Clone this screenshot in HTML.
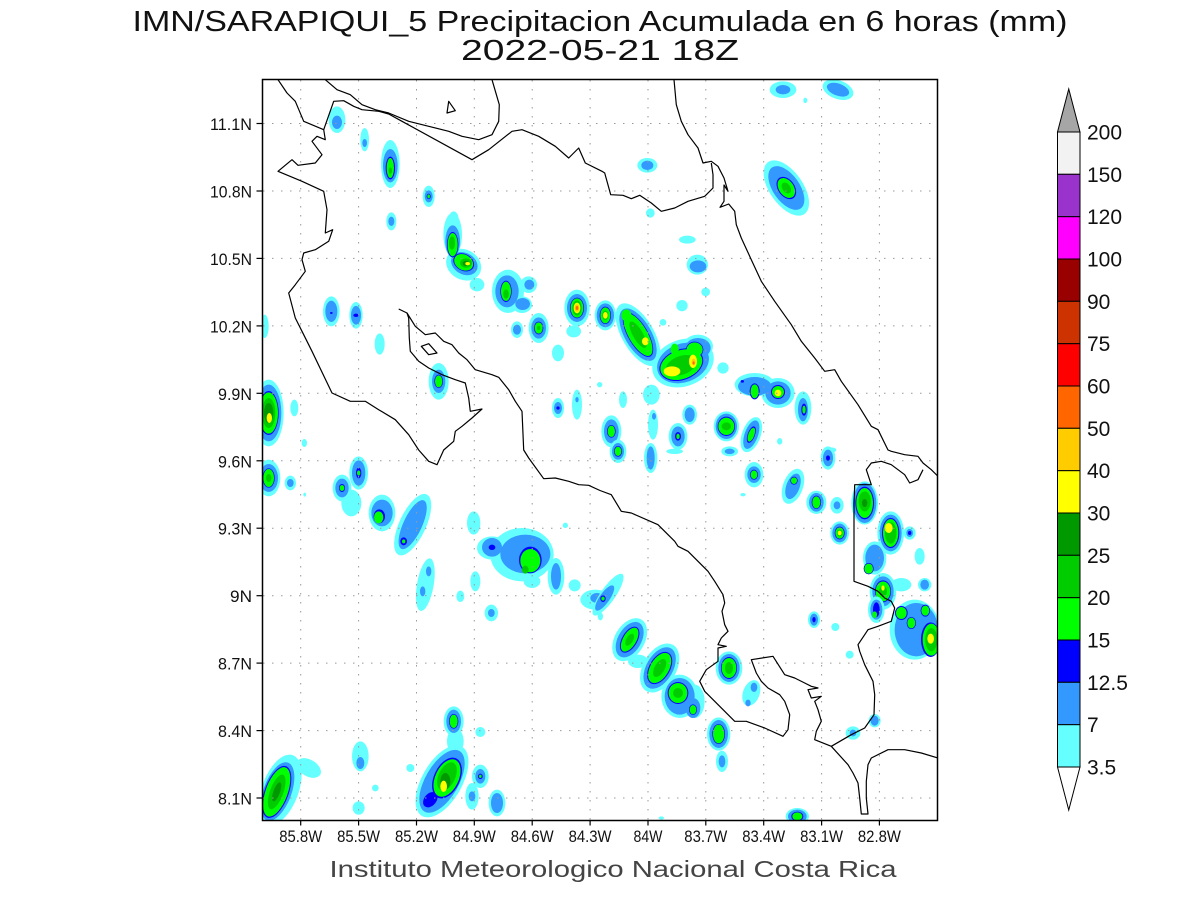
<!DOCTYPE html>
<html><head><meta charset="utf-8"><style>
html,body{margin:0;padding:0;background:#fff;}
svg{display:block;}
.c{fill:#66ffff}.b{fill:#3399ff}.n{fill:#0000ff}.g{fill:#00ff00}.m{fill:#00cc00}.d{fill:#009900}.y{fill:#ffff00}.o{fill:#ffcc00}.r{fill:#ff6600}
.cl{fill:none;stroke:#000;stroke-width:1.2;stroke-linejoin:round}
.gr{stroke:#999;stroke-width:1;stroke-dasharray:1.5 7.5}
text{font-family:"Liberation Sans",sans-serif;fill:#111}
</style></head><body>
<svg width="1200" height="900" viewBox="0 0 1200 900" xmlns="http://www.w3.org/2000/svg">
<defs><clipPath id="pc"><rect x="262.5" y="79.5" width="675" height="741"/></clipPath></defs>
<rect width="1200" height="900" fill="#fff"/>

<!-- titles -->
<text x="600" y="31" font-size="29" text-anchor="middle" textLength="935" lengthAdjust="spacingAndGlyphs">IMN/SARAPIQUI_5 Precipitacion Acumulada en 6 horas (mm)</text>
<text x="600" y="60" font-size="29" text-anchor="middle" textLength="278" lengthAdjust="spacingAndGlyphs">2022-05-21 18Z</text>

<g clip-path="url(#pc)">
<!-- Z9 -->
<g transform="translate(262 78) scale(0.33333)">
<ellipse class="c" cx="225" cy="125" rx="25" ry="40"/><ellipse class="b" cx="225" cy="133" rx="15" ry="20"/>
<ellipse class="c" cx="308" cy="185" rx="13" ry="35"/><ellipse class="b" cx="308" cy="195" rx="7" ry="12"/>
<g transform="translate(385 258)"><ellipse class="c" rx="28" ry="72"/><ellipse class="b" cy="5" rx="22" ry="50"/><ellipse class="n" cy="12" rx="14" ry="34"/><ellipse class="g" cy="12" rx="11" ry="30"/><ellipse class="m" cy="20" rx="5" ry="10"/></g>
<g transform="translate(500 355)"><ellipse class="c" rx="18" ry="32"/><ellipse class="b" rx="12" ry="18"/><ellipse class="n" rx="6" ry="8"/><ellipse class="g" rx="4" ry="6"/></g>
<ellipse class="c" cx="388" cy="430" rx="15" ry="27"/><ellipse class="b" cx="388" cy="430" rx="9" ry="14"/>
<ellipse class="c" cx="572" cy="470" rx="28" ry="65"/><ellipse class="c" cx="575" cy="425" rx="15" ry="25"/><ellipse class="c" cx="605" cy="560" rx="55" ry="45" transform="rotate(30 605 560)"/><ellipse class="c" cx="645" cy="620" rx="22" ry="20"/>
<ellipse class="b" cx="572" cy="490" rx="22" ry="48"/><ellipse class="b" cx="607" cy="557" rx="42" ry="32" transform="rotate(30 607 557)"/>
<ellipse class="n" cx="572" cy="500" rx="17" ry="38"/><ellipse class="n" cx="605" cy="553" rx="33" ry="25" transform="rotate(30 605 553)"/>
<ellipse class="g" cx="572" cy="500" rx="15" ry="35"/><ellipse class="g" cx="605" cy="553" rx="30" ry="23" transform="rotate(30 605 553)"/>
<ellipse class="m" cx="570" cy="495" rx="9" ry="20"/><ellipse class="m" cx="612" cy="555" rx="18" ry="14"/><ellipse class="d" cx="612" cy="556" rx="10" ry="8"/><ellipse class="y" cx="617" cy="557" rx="7" ry="5"/>
<ellipse class="c" cx="738" cy="640" rx="48" ry="65"/><ellipse class="c" cx="800" cy="620" rx="25" ry="25"/><ellipse class="c" cx="780" cy="680" rx="30" ry="25"/>
<ellipse class="b" cx="735" cy="640" rx="35" ry="48"/><ellipse class="b" cx="802" cy="620" rx="15" ry="15"/><ellipse class="b" cx="782" cy="678" rx="22" ry="18"/>
<ellipse class="n" cx="732" cy="640" rx="17" ry="32"/><ellipse class="g" cx="732" cy="640" rx="15" ry="29"/><ellipse class="m" cx="732" cy="648" rx="8" ry="14"/>
<g transform="translate(208 700)"><ellipse class="c" rx="25" ry="45"/><ellipse class="b" rx="18" ry="32"/><ellipse class="n" cy="5" rx="4" ry="3"/></g>
<g transform="translate(282 712)"><ellipse class="c" rx="20" ry="40"/><ellipse class="b" rx="15" ry="28"/><ellipse class="n" rx="8" ry="5"/></g>
<ellipse class="c" cx="353" cy="798" rx="15" ry="32"/>
<ellipse class="c" cx="765" cy="755" rx="18" ry="25"/><ellipse class="b" cx="765" cy="755" rx="12" ry="15"/>
<g transform="translate(830 750)"><ellipse class="c" rx="30" ry="45"/><ellipse class="b" rx="22" ry="32"/><ellipse class="n" rx="14" ry="19"/><ellipse class="g" rx="12" ry="17"/><ellipse class="m" rx="5" ry="6"/></g>
<ellipse class="c" cx="935" cy="760" rx="22" ry="18"/>
<g transform="translate(945 690)"><ellipse class="c" rx="38" ry="55"/><ellipse class="b" rx="30" ry="42"/><ellipse class="n" rx="21" ry="31"/><ellipse class="g" rx="19" ry="29"/><ellipse class="m" rx="14" ry="22"/><ellipse class="y" rx="10" ry="16"/><ellipse class="o" rx="7" ry="11"/><ellipse class="r" rx="4" ry="6"/></g>
<ellipse class="c" cx="888" cy="825" rx="18" ry="25"/>
<g transform="translate(888 990)"><ellipse class="c" rx="18" ry="30"/><ellipse class="b" rx="12" ry="18"/><ellipse class="n" rx="5" ry="5"/></g>
<ellipse class="c" cx="945" cy="980" rx="15" ry="45"/><ellipse class="b" cx="945" cy="965" rx="5" ry="8"/>
<g transform="translate(530 910)"><ellipse class="c" rx="30" ry="55"/><ellipse class="b" rx="20" ry="35"/><ellipse class="n" rx="13" ry="20"/><ellipse class="g" rx="11" ry="18"/></g>
<g transform="translate(20 1005)"><ellipse class="c" rx="45" ry="100"/><ellipse class="b" rx="38" ry="85"/><ellipse class="n" rx="30" ry="66"/><ellipse class="g" rx="28" ry="62"/><ellipse class="m" rx="20" ry="45"/><ellipse class="d" rx="14" ry="30"/><ellipse class="y" cx="2" cy="15" rx="8" ry="15"/></g>
<ellipse class="c" cx="8" cy="745" rx="12" ry="35"/>
<ellipse class="c" cx="97" cy="990" rx="12" ry="25"/>
<ellipse class="c" cx="127" cy="1095" rx="8" ry="12"/>
</g>

<!-- Z10 -->
<g transform="translate(598 78) scale(0.33333)">
<ellipse class="c" cx="555" cy="35" rx="40" ry="25"/><ellipse class="b" cx="555" cy="35" rx="22" ry="14"/>
<g transform="translate(720 35) rotate(20)"><ellipse class="c" rx="48" ry="28"/><ellipse class="b" rx="35" ry="18"/></g>
<ellipse class="c" cx="622" cy="67" rx="6" ry="8"/>
<ellipse class="c" cx="148" cy="262" rx="30" ry="22"/><ellipse class="b" cx="148" cy="262" rx="18" ry="14"/>
<g transform="translate(565 330) rotate(-35)"><ellipse class="c" rx="50" ry="95"/><ellipse class="b" rx="40" ry="75"/><ellipse class="n" rx="25" ry="37"/><ellipse class="g" rx="22" ry="33"/><ellipse class="m" rx="12" ry="18"/></g>
<ellipse class="c" cx="157" cy="405" rx="13" ry="14"/>
<ellipse class="c" cx="268" cy="485" rx="25" ry="12"/>
<ellipse class="c" cx="298" cy="560" rx="32" ry="30"/><ellipse class="b" cx="300" cy="565" rx="25" ry="18"/>
<ellipse class="c" cx="323" cy="642" rx="13" ry="13"/>
<ellipse class="c" cx="252" cy="683" rx="17" ry="17"/>
<ellipse class="c" cx="195" cy="733" rx="10" ry="10"/>
<ellipse class="c" cx="375" cy="870" rx="17" ry="17"/>
<g transform="translate(22 712)"><ellipse class="c" rx="32" ry="45"/><ellipse class="b" rx="26" ry="36"/><ellipse class="n" rx="17" ry="26"/><ellipse class="g" rx="15" ry="24"/><ellipse class="m" rx="9" ry="14"/><ellipse class="y" rx="7" ry="10"/></g>
<!-- chain + big -->
<ellipse class="c" cx="255" cy="855" rx="95" ry="70" transform="rotate(-20 255 855)"/><ellipse class="c" cx="160" cy="950" rx="25" ry="30"/><ellipse class="c" cx="300" cy="805" rx="45" ry="35"/>
<g transform="translate(120 770) rotate(-30)"><ellipse class="c" rx="48" ry="105"/><ellipse class="b" rx="40" ry="88"/><ellipse class="n" rx="30" ry="75"/><ellipse class="g" rx="28" ry="72"/><ellipse class="m" rx="15" ry="45"/></g>
<ellipse class="g" cx="85" cy="712" rx="15" ry="18"/><ellipse class="y" cx="142" cy="790" rx="10" ry="12"/>
<ellipse class="b" cx="255" cy="855" rx="80" ry="58" transform="rotate(-20 255 855)"/><ellipse class="b" cx="300" cy="810" rx="38" ry="30"/>
<ellipse class="n" cx="250" cy="860" rx="68" ry="46" transform="rotate(-20 250 860)"/><ellipse class="n" cx="290" cy="815" rx="26" ry="24"/>
<ellipse class="g" cx="250" cy="860" rx="65" ry="43" transform="rotate(-20 250 860)"/><ellipse class="g" cx="290" cy="815" rx="24" ry="22"/><ellipse class="g" cx="230" cy="815" rx="12" ry="18"/>
<ellipse class="m" cx="250" cy="862" rx="48" ry="28" transform="rotate(-20 250 862)"/>
<ellipse class="y" cx="222" cy="880" rx="25" ry="15"/><ellipse class="y" cx="285" cy="850" rx="12" ry="20"/><ellipse class="o" cx="287" cy="852" rx="6" ry="10"/><ellipse class="r" cx="287" cy="855" rx="3" ry="5"/>
<!-- right cluster -->
<ellipse class="c" cx="470" cy="920" rx="60" ry="35"/><ellipse class="c" cx="540" cy="945" rx="50" ry="45"/><ellipse class="c" cx="615" cy="990" rx="25" ry="50"/>
<ellipse class="b" cx="470" cy="925" rx="50" ry="28"/><ellipse class="b" cx="540" cy="945" rx="38" ry="35"/><ellipse class="b" cx="615" cy="995" rx="15" ry="35"/>
<ellipse class="n" cx="470" cy="940" rx="15" ry="24"/><ellipse class="n" cx="540" cy="942" rx="21" ry="21"/><ellipse class="n" cx="618" cy="995" rx="8" ry="18"/><ellipse class="n" cx="433" cy="910" rx="5" ry="4"/>
<ellipse class="g" cx="470" cy="940" rx="12" ry="21"/><ellipse class="g" cx="540" cy="942" rx="18" ry="18"/><ellipse class="g" cx="618" cy="995" rx="5" ry="12"/><ellipse class="y" cx="540" cy="945" rx="10" ry="10"/>
<g transform="translate(40 1060)"><ellipse class="c" rx="30" ry="48"/><ellipse class="b" rx="22" ry="36"/><ellipse class="n" rx="13" ry="19"/><ellipse class="g" rx="11" ry="17"/></g>
<ellipse class="c" cx="165" cy="1040" rx="15" ry="45"/><ellipse class="b" cx="168" cy="1015" rx="6" ry="10"/>
<ellipse class="c" cx="275" cy="1010" rx="22" ry="30"/><ellipse class="b" cx="275" cy="1010" rx="15" ry="22"/>
<g transform="translate(240 1075)"><ellipse class="c" rx="28" ry="40"/><ellipse class="b" rx="20" ry="30"/><ellipse class="n" rx="9" ry="13"/><ellipse class="g" rx="5" ry="8"/></g>
<g transform="translate(385 1045)"><ellipse class="c" rx="38" ry="45"/><ellipse class="b" rx="32" ry="38"/><ellipse class="n" rx="26" ry="29"/><ellipse class="g" rx="24" ry="26"/><ellipse class="m" rx="14" ry="12"/></g>
<g transform="translate(460 1070) rotate(20)"><ellipse class="c" rx="28" ry="55"/><ellipse class="b" rx="20" ry="45"/><ellipse class="n" rx="11" ry="26"/><ellipse class="g" rx="9" ry="22"/></g>
<ellipse class="c" cx="75" cy="965" rx="12" ry="25"/>
<ellipse class="c" cx="545" cy="1090" rx="8" ry="10"/><ellipse class="c" cx="700" cy="1116" rx="15" ry="8"/>
<ellipse class="c" cx="5" cy="920" rx="8" ry="8"/>
</g>

<!-- Z11 -->
<g transform="translate(262 448) scale(0.33333)">
<g transform="translate(20 90)"><ellipse class="c" rx="35" ry="55"/><ellipse class="b" rx="28" ry="42"/><ellipse class="n" rx="18" ry="29"/><ellipse class="g" rx="16" ry="27"/><ellipse class="m" rx="8" ry="12"/></g>
<ellipse class="c" cx="85" cy="105" rx="17" ry="22"/><ellipse class="b" cx="85" cy="105" rx="10" ry="12"/>
<ellipse class="c" cx="128" cy="140" rx="4" ry="6"/>
<ellipse class="c" cx="268" cy="165" rx="30" ry="40"/><ellipse class="c" cx="240" cy="120" rx="28" ry="40"/><ellipse class="c" cx="290" cy="75" rx="28" ry="50"/>
<ellipse class="b" cx="240" cy="120" rx="20" ry="28"/><ellipse class="b" cx="290" cy="75" rx="20" ry="38"/>
<ellipse class="n" cx="240" cy="120" rx="9" ry="12"/><ellipse class="n" cx="290" cy="75" rx="8" ry="16"/>
<ellipse class="g" cx="240" cy="120" rx="7" ry="9"/><ellipse class="g" cx="290" cy="75" rx="5" ry="8"/>
<g transform="translate(360 195)"><ellipse class="c" rx="40" ry="55"/><ellipse class="b" rx="32" ry="40"/><ellipse class="n" cx="-8" cy="10" rx="17" ry="21"/><ellipse class="g" cx="-10" cy="13" rx="14" ry="18"/></g>
<g transform="translate(452 230) rotate(25)"><ellipse class="c" rx="40" ry="100"/><ellipse class="b" rx="28" ry="80"/></g>
<ellipse class="n" cx="425" cy="280" rx="10" ry="12"/><ellipse class="g" cx="425" cy="280" rx="5" ry="6"/>
<g transform="translate(490 410) rotate(10)"><ellipse class="c" rx="25" ry="80"/></g>
<ellipse class="b" cx="500" cy="370" rx="8" ry="15"/><ellipse class="b" cx="482" cy="430" rx="8" ry="15"/>
<ellipse class="c" cx="595" cy="445" rx="12" ry="17"/>
<ellipse class="c" cx="640" cy="400" rx="15" ry="30"/>
<ellipse class="c" cx="635" cy="225" rx="20" ry="35"/>
<ellipse class="c" cx="780" cy="320" rx="95" ry="80"/><ellipse class="c" cx="690" cy="300" rx="45" ry="35"/><ellipse class="c" cx="810" cy="400" rx="25" ry="20"/>
<ellipse class="b" cx="790" cy="318" rx="75" ry="58"/><ellipse class="b" cx="690" cy="298" rx="30" ry="28"/>
<ellipse class="n" cx="805" cy="336" rx="34" ry="40"/><ellipse class="n" cx="690" cy="298" rx="10" ry="8"/>
<ellipse class="g" cx="805" cy="338" rx="30" ry="35"/><ellipse class="m" cx="790" cy="365" rx="10" ry="12"/>
<ellipse class="c" cx="882" cy="385" rx="25" ry="55"/><ellipse class="b" cx="882" cy="385" rx="15" ry="40"/>
<ellipse class="c" cx="938" cy="412" rx="18" ry="18"/>
<ellipse class="c" cx="1000" cy="455" rx="45" ry="30"/><ellipse class="b" cx="1005" cy="450" rx="20" ry="15"/><ellipse class="c" cx="1015" cy="505" rx="8" ry="12"/>
<ellipse class="c" cx="688" cy="495" rx="20" ry="25"/><ellipse class="b" cx="688" cy="495" rx="10" ry="12"/>
<ellipse class="c" cx="580" cy="880" rx="25" ry="40"/>
<g transform="translate(575 820)"><ellipse class="c" rx="30" ry="45"/><ellipse class="b" rx="22" ry="35"/><ellipse class="n" rx="14" ry="22"/><ellipse class="g" rx="12" ry="20"/></g>
<g transform="translate(540 1000) rotate(30)"><ellipse class="c" rx="60" ry="120"/><ellipse class="b" rx="50" ry="105"/></g>
<ellipse class="n" cx="505" cy="1055" rx="18" ry="26" transform="rotate(40 505 1055)"/>
<ellipse class="n" cx="555" cy="990" rx="39" ry="65" transform="rotate(25 555 990)"/>
<ellipse class="g" cx="555" cy="990" rx="35" ry="60" transform="rotate(25 555 990)"/><ellipse class="m" cx="555" cy="985" rx="25" ry="45" transform="rotate(25 555 985)"/><ellipse class="d" cx="550" cy="1000" rx="15" ry="25"/><ellipse class="y" cx="545" cy="1015" rx="10" ry="17"/>
<g transform="translate(655 985)"><ellipse class="c" rx="25" ry="35"/><ellipse class="b" rx="15" ry="22"/><ellipse class="n" rx="7" ry="8"/><ellipse class="g" rx="4" ry="5"/></g>
<ellipse class="c" cx="630" cy="1045" rx="20" ry="40"/><ellipse class="b" cx="630" cy="1045" rx="10" ry="15"/>
<ellipse class="c" cx="705" cy="1065" rx="25" ry="40"/><ellipse class="b" cx="705" cy="1065" rx="18" ry="30"/>
<ellipse class="c" cx="655" cy="852" rx="15" ry="15"/>
<ellipse class="c" cx="445" cy="960" rx="12" ry="12"/>
<ellipse class="c" cx="295" cy="925" rx="25" ry="45"/><ellipse class="b" cx="295" cy="945" rx="12" ry="18"/>
<ellipse class="c" cx="340" cy="1020" rx="10" ry="10"/>
<ellipse class="c" cx="290" cy="1080" rx="18" ry="20"/>
<ellipse class="c" cx="140" cy="960" rx="40" ry="25" transform="rotate(30 140 960)"/>
<g transform="translate(55 1025) rotate(20)"><ellipse class="c" rx="55" ry="110"/><ellipse class="b" cx="-6" cy="8" rx="42" ry="92"/><ellipse class="n" cx="-8" cy="10" rx="36" ry="82"/><ellipse class="g" cx="-8" cy="10" rx="33" ry="78"/><ellipse class="m" cx="-8" cy="10" rx="20" ry="55"/><ellipse class="d" cx="-8" cy="10" rx="10" ry="30"/></g>
<ellipse class="c" cx="910" cy="232" rx="8" ry="8"/>
</g>

<!-- Z12 -->
<g transform="translate(598 448) scale(0.33333)">
<g transform="translate(60 10)"><ellipse class="c" rx="25" ry="35"/><ellipse class="b" rx="18" ry="25"/><ellipse class="n" rx="12" ry="16"/><ellipse class="g" rx="10" ry="14"/></g>
<ellipse class="c" cx="158" cy="30" rx="20" ry="45"/><ellipse class="b" cx="158" cy="30" rx="12" ry="35"/>
<ellipse class="c" cx="230" cy="10" rx="25" ry="8"/>
<ellipse class="c" cx="395" cy="10" rx="25" ry="15"/><ellipse class="b" cx="395" cy="10" rx="15" ry="8"/>
<g transform="translate(690 30)"><ellipse class="c" rx="22" ry="35"/><ellipse class="b" rx="15" ry="25"/><ellipse class="n" rx="6" ry="8"/></g>
<g transform="translate(468 80)"><ellipse class="c" rx="28" ry="38"/><ellipse class="b" rx="20" ry="25"/><ellipse class="n" rx="12" ry="15"/><ellipse class="g" rx="10" ry="13"/></g>
<g transform="translate(585 115) rotate(20)"><ellipse class="c" rx="30" ry="55"/><ellipse class="b" rx="20" ry="40"/></g>
<ellipse class="n" cx="588" cy="98" rx="11" ry="12"/><ellipse class="g" cx="588" cy="98" rx="9" ry="10"/>
<g transform="translate(655 163)"><ellipse class="c" rx="30" ry="35"/><ellipse class="b" rx="22" ry="28"/><ellipse class="n" rx="14" ry="20"/><ellipse class="g" rx="12" ry="18"/></g>
<ellipse class="c" cx="717" cy="172" rx="20" ry="25"/><ellipse class="b" cx="717" cy="172" rx="10" ry="12"/>
<ellipse class="c" cx="435" cy="140" rx="8" ry="5"/>
<g transform="translate(725 255)"><ellipse class="c" rx="28" ry="35"/><ellipse class="b" rx="22" ry="28"/><ellipse class="n" rx="15" ry="19"/><ellipse class="g" rx="13" ry="17"/><ellipse class="m" rx="8" ry="10"/><ellipse class="y" rx="6" ry="7"/></g>
<g transform="translate(800 165)"><ellipse class="c" rx="40" ry="65"/><ellipse class="b" rx="35" ry="60"/><ellipse class="n" rx="28" ry="49"/><ellipse class="g" rx="25" ry="45"/><ellipse class="m" cy="-5" rx="18" ry="30"/><ellipse class="d" rx="8" ry="12"/></g>
<ellipse class="c" cx="935" cy="255" rx="18" ry="20"/><ellipse class="b" cx="935" cy="255" rx="10" ry="12"/><ellipse class="n" cx="935" cy="255" rx="5" ry="6"/>
<ellipse class="c" cx="830" cy="330" rx="35" ry="50"/><ellipse class="b" cx="830" cy="330" rx="28" ry="40"/><ellipse class="n" cx="812" cy="362" rx="15" ry="17"/><ellipse class="g" cx="812" cy="362" rx="13" ry="15"/>
<g transform="translate(878 255)"><ellipse class="c" rx="40" ry="65"/><ellipse class="b" rx="33" ry="55"/><ellipse class="n" rx="26" ry="45"/><ellipse class="g" rx="23" ry="42"/><ellipse class="m" rx="17" ry="32"/><ellipse class="y" cx="-6" cy="-15" rx="12" ry="15"/></g>
<ellipse class="c" cx="965" cy="325" rx="15" ry="25"/>
<ellipse class="c" cx="910" cy="410" rx="30" ry="20"/>
<ellipse class="c" cx="980" cy="410" rx="20" ry="20"/><ellipse class="b" cx="980" cy="410" rx="13" ry="15"/>
<g transform="translate(855 430)"><ellipse class="c" rx="40" ry="55"/><ellipse class="b" rx="32" ry="45"/><ellipse class="n" rx="24" ry="33"/><ellipse class="g" rx="22" ry="30"/><ellipse class="m" rx="12" ry="16"/><ellipse class="y" cy="-10" rx="5" ry="8"/></g>
<g transform="translate(835 485)"><ellipse class="c" rx="25" ry="40"/><ellipse class="b" rx="18" ry="30"/><ellipse class="n" rx="10" ry="22"/><ellipse class="g" cx="-5" cy="15" rx="7" ry="10"/></g>
<ellipse class="c" cx="950" cy="545" rx="75" ry="90"/>
<ellipse class="b" cx="955" cy="545" rx="65" ry="80"/>
<ellipse class="n" cx="910" cy="495" rx="19" ry="21"/><ellipse class="n" cx="940" cy="525" rx="14" ry="18"/><ellipse class="n" cx="982" cy="488" rx="14" ry="18"/><ellipse class="n" cx="998" cy="575" rx="29" ry="52"/>
<ellipse class="g" cx="910" cy="495" rx="16" ry="18"/><ellipse class="g" cx="940" cy="525" rx="12" ry="16"/><ellipse class="g" cx="982" cy="488" rx="12" ry="15"/><ellipse class="g" cx="1000" cy="575" rx="26" ry="48"/>
<ellipse class="m" cx="1000" cy="575" rx="18" ry="35"/><ellipse class="y" cx="998" cy="572" rx="10" ry="15"/>
<g transform="translate(648 515)"><ellipse class="c" rx="18" ry="25"/><ellipse class="b" rx="12" ry="18"/><ellipse class="n" rx="5" ry="8"/></g>
<ellipse class="c" cx="712" cy="537" rx="12" ry="12"/>
<ellipse class="c" cx="755" cy="620" rx="12" ry="12"/>
<g transform="translate(30 440) rotate(35)"><ellipse class="c" rx="22" ry="75"/></g>
<ellipse class="b" cx="20" cy="450" rx="15" ry="45" transform="rotate(35 20 450)"/><ellipse class="n" cx="15" cy="452" rx="8" ry="10"/><ellipse class="g" cx="15" cy="452" rx="5" ry="6"/>
<ellipse class="c" cx="120" cy="640" rx="30" ry="20"/>
<g transform="translate(95 575) rotate(30)"><ellipse class="c" rx="45" ry="70"/><ellipse class="b" rx="35" ry="58"/><ellipse class="n" rx="23" ry="43"/><ellipse class="g" rx="20" ry="40"/><ellipse class="m" rx="10" ry="20"/></g>
<g transform="translate(185 660) rotate(30)"><ellipse class="c" rx="50" ry="80"/><ellipse class="b" rx="40" ry="68"/><ellipse class="n" rx="31" ry="53"/><ellipse class="g" rx="28" ry="50"/><ellipse class="m" rx="15" ry="30"/></g>
<ellipse class="c" cx="245" cy="745" rx="55" ry="65"/><ellipse class="c" cx="290" cy="760" rx="30" ry="50"/>
<ellipse class="b" cx="245" cy="745" rx="45" ry="55"/><ellipse class="b" cx="285" cy="780" rx="22" ry="30"/>
<ellipse class="n" cx="240" cy="735" rx="31" ry="33"/><ellipse class="n" cx="285" cy="785" rx="12" ry="16"/>
<ellipse class="g" cx="240" cy="735" rx="28" ry="30"/><ellipse class="g" cx="285" cy="785" rx="10" ry="14"/><ellipse class="m" cx="240" cy="735" rx="15" ry="15"/>
<g transform="translate(393 660)"><ellipse class="c" rx="40" ry="50"/><ellipse class="b" rx="32" ry="42"/><ellipse class="n" rx="24" ry="33"/><ellipse class="g" rx="22" ry="30"/><ellipse class="m" rx="12" ry="18"/></g>
<g transform="translate(460 735) rotate(20)"><ellipse class="c" rx="25" ry="40"/></g>
<ellipse class="b" cx="468" cy="718" rx="10" ry="14"/><ellipse class="b" cx="450" cy="765" rx="8" ry="10"/>
<g transform="translate(362 858)"><ellipse class="c" rx="35" ry="50"/><ellipse class="b" rx="28" ry="42"/><ellipse class="n" rx="19" ry="30"/><ellipse class="g" rx="17" ry="28"/></g>
<ellipse class="c" cx="372" cy="940" rx="18" ry="32"/><ellipse class="b" cx="372" cy="940" rx="10" ry="18"/>
<ellipse class="c" cx="830" cy="818" rx="18" ry="20"/><ellipse class="b" cx="830" cy="818" rx="12" ry="15"/>
<ellipse class="c" cx="765" cy="855" rx="22" ry="20"/><ellipse class="b" cx="765" cy="855" rx="10" ry="10"/>
<g transform="translate(598 1105)"><ellipse class="c" rx="35" ry="25"/><ellipse class="b" rx="28" ry="20"/><ellipse class="n" rx="18" ry="14"/><ellipse class="g" rx="15" ry="12"/></g>
<ellipse class="c" cx="190" cy="1110" rx="8" ry="5"/>
</g>

<!-- grid -->
<g class="gr">
<line x1="300.7" y1="80" x2="300.7" y2="820"/><line x1="358.6" y1="80" x2="358.6" y2="820"/><line x1="416.5" y1="80" x2="416.5" y2="820"/><line x1="474.3" y1="80" x2="474.3" y2="820"/><line x1="532.2" y1="80" x2="532.2" y2="820"/><line x1="590.1" y1="80" x2="590.1" y2="820"/><line x1="648" y1="80" x2="648" y2="820"/><line x1="705.8" y1="80" x2="705.8" y2="820"/><line x1="763.7" y1="80" x2="763.7" y2="820"/><line x1="821.6" y1="80" x2="821.6" y2="820"/><line x1="879.4" y1="80" x2="879.4" y2="820"/>
<line x1="263" y1="123.5" x2="937" y2="123.5"/><line x1="263" y1="191" x2="937" y2="191"/><line x1="263" y1="258.4" x2="937" y2="258.4"/><line x1="263" y1="325.9" x2="937" y2="325.9"/><line x1="263" y1="393.3" x2="937" y2="393.3"/><line x1="263" y1="460.8" x2="937" y2="460.8"/><line x1="263" y1="528.2" x2="937" y2="528.2"/><line x1="263" y1="595.7" x2="937" y2="595.7"/><line x1="263" y1="663.1" x2="937" y2="663.1"/><line x1="263" y1="730.6" x2="937" y2="730.6"/><line x1="263" y1="798" x2="937" y2="798"/>
</g>

<!-- coastlines -->
<polyline class="cl" points="278,79.7 287,93 295.3,101.3 303.7,121.3 323.7,129.7 325.3,139.7 317,136.3 312,141.3 322,154.7 315.3,163 298,165.3 292,159.7 278,171.3 302,181.3 323.7,191.3 327,209.7 325.3,233 332.7,229.7 328.7,241.3 315.3,249.7 303.7,253 302,259.7 305.3,271.3 295.3,284.7 288.7,293 295.3,318 302,331.3 312,351.3 332,393 350.3,401.3 365.3,401.3 378.7,409.7 395.3,419.7 408.7,434.7 418.7,450 428.7,461.3 437,464.7 443.7,450 453.7,441.3 455.3,431.3 462,426.3 472,418 482,409 470.3,411.3 468.7,398 465.3,383 455.3,379.7 442,374.7 428.7,368 418.7,361.3 410.3,351.3 409.3,338 408.7,318 407,313 398.7,309"/>
<polyline class="cl" points="407,313 415.3,326.3 425.3,334.7 435.3,333 443.7,341.3 452,344.7 458.7,353 467,359.7 475.3,369.7 492,374.7 498.7,377.3 508.7,389.7 515.3,401.3 522,411.3 523.7,450 528.7,458 543.7,478.7 555.3,478 568.7,481.3 578.7,484.7 588.7,485.3 600,490.5 611.3,494.7 621.3,511.3 631.3,513 658,524.7 674.7,541.3 678,546.3 688,551.3 698,561.3 708,571.3 714.7,581.3 723,594.7 724.7,603 722,611.3 724.7,624.7 728,631.3 721.3,638 718,644.7 726.3,646.3 718,648 718,661.3 706.3,669.7 699.7,681.3 704.7,691.3 714.7,701.3 724.7,711.3 734.7,721.3 746.3,721.3 764.7,728 783,736.3 788,729.7 789.7,714.7 784.7,701.3 779.7,694.7 768,688 761.3,681.3 756.3,673 751.3,659.7 773,656.3 784.7,674.7 794.7,678 804.7,683 811.3,686.3 818,688 808,689.7 811.3,698 821.3,696.3 814.7,701.3 818,709.7 821.3,721.3 816.3,731.3 814.7,739.7 831.3,746.3 848,764.7 853,773 858,783 859.7,798 861.3,814 868,814 866.3,798 866.3,781.3 868,764.7 871.3,758 888,749.7 904.7,749.7 921.3,753 938,758"/>
<polyline class="cl" points="831.3,746.3 851.3,734.7 864.7,728 874,714.7 874.7,694.7 873,681.3 864.7,664.7 859.7,651.3 858,644.7 864.7,634.7 868,629.7 878,626.3 891.3,621.3 894.7,608 891.3,601.3 884.7,598 878,591.3 868,586.3 854,581.3 854,504.7 854.7,484.7 871.3,484.7 866.3,469.7 871.3,463 881.3,461.3 891.3,464.7 904.7,474.7 909.7,483 918,479.7 923,469.7"/>
<polyline class="cl" points="674,79.7 676.3,104.7 681.3,121.3 688,134.7 698,148 703,163 711.3,161.3 718,166.3 724,178 728,191.3 724,185 724,201.3 720,207.3 728.7,204 734.7,211.3 736.3,224.7 741.3,238 751.3,259.7 761.3,281.3 774.7,301.3 791.3,324.7 801.3,341.3 814.7,358 824.7,371.3 834.7,369.7 841.3,381.3 858,404.7 871.3,426.3 878,429.7 888,450 891.3,451.3 904.7,454.7 918,456.3 923,463 931.3,469.7 938,476.3"/>
<polyline class="cl" points="323.7,129.7 333.7,101.3 343.7,100.7 353.7,106.3 362,109.7 378.7,111.3 388.7,114 402,121.3 472,159.7 488.7,149.7 512,131.3 522,129.7 538.7,136.3 555.3,146.3 568.7,158 578.7,148 585.3,163 602,171.3 604.7,173 610.7,194.7 623,195.3 631.3,198.7 639.7,195.3 651.3,203 661.3,211.3 674.7,208 688,201.3 704.7,196.3 713,188 713,174.7 711.3,163"/>
<polyline class="cl" points="325.3,79.7 337,89.7 350.3,94.7 362,104.7 375.3,109.7 388.7,113 408.7,121.3 428.7,126.3 448.7,131.3 462,136.3 478.7,139.7 492,134.7 498.7,121.3 499.3,104.7 492,79.7"/>
<polygon class="cl" points="448.7,101.3 455.3,110.7 447,113"/>
<polygon class="cl" points="421.3,346.3 428.7,343.7 437,353 428.7,354.7"/>
</g>

<!-- frame -->
<rect x="262.5" y="79.5" width="675" height="741" fill="none" stroke="#000" stroke-width="1.5"/>

<!-- ticks -->
<g stroke="#000" stroke-width="1.2">
<line x1="256.5" y1="123.5" x2="262.5" y2="123.5"/><line x1="256.5" y1="191" x2="262.5" y2="191"/><line x1="256.5" y1="258.4" x2="262.5" y2="258.4"/><line x1="256.5" y1="325.9" x2="262.5" y2="325.9"/><line x1="256.5" y1="393.3" x2="262.5" y2="393.3"/><line x1="256.5" y1="460.8" x2="262.5" y2="460.8"/><line x1="256.5" y1="528.2" x2="262.5" y2="528.2"/><line x1="256.5" y1="595.7" x2="262.5" y2="595.7"/><line x1="256.5" y1="663.1" x2="262.5" y2="663.1"/><line x1="256.5" y1="730.6" x2="262.5" y2="730.6"/><line x1="256.5" y1="798" x2="262.5" y2="798"/>
<line x1="300.7" y1="820" x2="300.7" y2="825.5"/><line x1="358.6" y1="820" x2="358.6" y2="825.5"/><line x1="416.5" y1="820" x2="416.5" y2="825.5"/><line x1="474.3" y1="820" x2="474.3" y2="825.5"/><line x1="532.2" y1="820" x2="532.2" y2="825.5"/><line x1="590.1" y1="820" x2="590.1" y2="825.5"/><line x1="648" y1="820" x2="648" y2="825.5"/><line x1="705.8" y1="820" x2="705.8" y2="825.5"/><line x1="763.7" y1="820" x2="763.7" y2="825.5"/><line x1="821.6" y1="820" x2="821.6" y2="825.5"/><line x1="879.4" y1="820" x2="879.4" y2="825.5"/>
</g>

<!-- y labels -->
<g font-size="17" text-anchor="end">
<text x="252" y="130" textLength="42" lengthAdjust="spacingAndGlyphs">11.1N</text>
<text x="252" y="197.5" textLength="42" lengthAdjust="spacingAndGlyphs">10.8N</text>
<text x="252" y="264.9" textLength="42" lengthAdjust="spacingAndGlyphs">10.5N</text>
<text x="252" y="332.4" textLength="42" lengthAdjust="spacingAndGlyphs">10.2N</text>
<text x="252" y="399.8" textLength="34" lengthAdjust="spacingAndGlyphs">9.9N</text>
<text x="252" y="467.3" textLength="34" lengthAdjust="spacingAndGlyphs">9.6N</text>
<text x="252" y="534.7" textLength="34" lengthAdjust="spacingAndGlyphs">9.3N</text>
<text x="252" y="602.2" textLength="22" lengthAdjust="spacingAndGlyphs">9N</text>
<text x="252" y="669.6" textLength="34" lengthAdjust="spacingAndGlyphs">8.7N</text>
<text x="252" y="737.1" textLength="34" lengthAdjust="spacingAndGlyphs">8.4N</text>
<text x="252" y="804.5" textLength="34" lengthAdjust="spacingAndGlyphs">8.1N</text>
</g>
<!-- x labels -->
<g font-size="17" text-anchor="middle">
<text x="300.7" y="842" textLength="43" lengthAdjust="spacingAndGlyphs">85.8W</text>
<text x="358.6" y="842" textLength="43" lengthAdjust="spacingAndGlyphs">85.5W</text>
<text x="416.5" y="842" textLength="43" lengthAdjust="spacingAndGlyphs">85.2W</text>
<text x="474.3" y="842" textLength="43" lengthAdjust="spacingAndGlyphs">84.9W</text>
<text x="532.2" y="842" textLength="43" lengthAdjust="spacingAndGlyphs">84.6W</text>
<text x="590.1" y="842" textLength="43" lengthAdjust="spacingAndGlyphs">84.3W</text>
<text x="648" y="842" textLength="29" lengthAdjust="spacingAndGlyphs">84W</text>
<text x="705.8" y="842" textLength="43" lengthAdjust="spacingAndGlyphs">83.7W</text>
<text x="763.7" y="842" textLength="43" lengthAdjust="spacingAndGlyphs">83.4W</text>
<text x="821.6" y="842" textLength="43" lengthAdjust="spacingAndGlyphs">83.1W</text>
<text x="879.4" y="842" textLength="43" lengthAdjust="spacingAndGlyphs">82.8W</text>
</g>

<text x="613" y="877" font-size="23" text-anchor="middle" textLength="567" lengthAdjust="spacingAndGlyphs" style="fill:#444">Instituto Meteorologico Nacional Costa Rica</text>

<!-- colorbar -->
<g stroke="#000" stroke-width="1">
<polygon points="1057.5,132 1068.75,89 1080,132" fill="#a6a6a6"/>
<rect x="1057.5" y="132" width="22.5" height="42.3" fill="#f2f2f2"/>
<rect x="1057.5" y="174.3" width="22.5" height="42.4" fill="#9933cc"/>
<rect x="1057.5" y="216.7" width="22.5" height="42.3" fill="#ff00ff"/>
<rect x="1057.5" y="259" width="22.5" height="42.3" fill="#990000"/>
<rect x="1057.5" y="301.3" width="22.5" height="42.4" fill="#cc3300"/>
<rect x="1057.5" y="343.7" width="22.5" height="42.3" fill="#ff0000"/>
<rect x="1057.5" y="386" width="22.5" height="42.3" fill="#ff6600"/>
<rect x="1057.5" y="428.3" width="22.5" height="42.4" fill="#ffcc00"/>
<rect x="1057.5" y="470.7" width="22.5" height="42.3" fill="#ffff00"/>
<rect x="1057.5" y="513" width="22.5" height="42.3" fill="#009900"/>
<rect x="1057.5" y="555.3" width="22.5" height="42.4" fill="#00cc00"/>
<rect x="1057.5" y="597.7" width="22.5" height="42.3" fill="#00ff00"/>
<rect x="1057.5" y="640" width="22.5" height="42.3" fill="#0000ff"/>
<rect x="1057.5" y="682.3" width="22.5" height="42.4" fill="#3399ff"/>
<rect x="1057.5" y="724.7" width="22.5" height="42.3" fill="#66ffff"/>
<polygon points="1057.5,767 1068.75,810 1080,767" fill="#fff"/>
</g>
<g font-size="21">
<text x="1087" y="139.5">200</text>
<text x="1087" y="181.8">150</text>
<text x="1087" y="224.2">120</text>
<text x="1087" y="266.5">100</text>
<text x="1087" y="308.8">90</text>
<text x="1087" y="351.2">75</text>
<text x="1087" y="393.5">60</text>
<text x="1087" y="435.8">50</text>
<text x="1087" y="478.2">40</text>
<text x="1087" y="520.5">30</text>
<text x="1087" y="562.8">25</text>
<text x="1087" y="605.2">20</text>
<text x="1087" y="647.5">15</text>
<text x="1087" y="689.8">12.5</text>
<text x="1087" y="732.2">7</text>
<text x="1087" y="774.5">3.5</text>
</g>
</svg>
</body></html>
